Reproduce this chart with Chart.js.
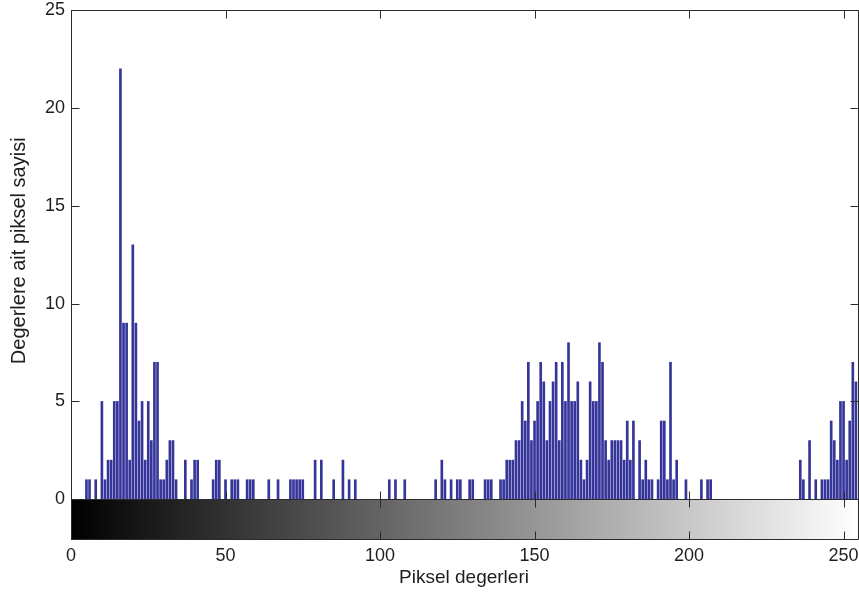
<!DOCTYPE html>
<html>
<head>
<meta charset="utf-8">
<script src="https://cdn.jsdelivr.net/npm/chart.js@4.4.1/dist/chart.umd.min.js"></script>
<style>
  html, body { margin: 0; padding: 0; background: #fff; overflow: hidden; }
  #wrap { width: 859px; height: 598px; position: relative; }
</style>
</head>
<body>
<div id="wrap"><canvas id="histChart" width="859" height="598"></canvas></div>
<script>
// pixel values (bins) that have a count; other bins are 0
const binValues = [
  5, 6, 8, 10, 11, 12, 13, 14, 15, 16, 17, 18, 19, 20, 21, 22, 23, 24, 25, 26,
  27, 28, 29, 30, 31, 32, 33, 34, 37, 39, 40, 41, 46, 47, 48, 50, 52, 53, 54, 57,
  58, 59, 64, 67, 71, 72, 73, 74, 75, 79, 81, 85, 88, 90, 92, 103, 105, 108, 118, 120,
  121, 123, 125, 126, 129, 130, 134, 135, 136, 139, 140, 141, 142, 143, 144, 145, 146, 147, 148, 149,
  150, 151, 152, 153, 154, 155, 156, 157, 158, 159, 160, 161, 162, 163, 164, 165, 166, 167, 168, 169,
  170, 171, 172, 173, 174, 175, 176, 177, 178, 179, 180, 181, 182, 184, 185, 186, 187, 188, 190, 191,
  192, 193, 194, 195, 196, 199, 204, 206, 207, 236, 237, 239, 241, 243, 244, 245, 246, 247, 248, 249,
  250, 251, 252, 253, 254
];
const binCounts = [
  1, 1, 1, 5, 1, 2, 2, 5, 5, 22, 9, 9, 2, 13, 9, 4, 5, 2, 5, 3,
  7, 7, 1, 1, 2, 3, 3, 1, 2, 1, 2, 2, 1, 2, 2, 1, 1, 1, 1, 1,
  1, 1, 1, 1, 1, 1, 1, 1, 1, 2, 2, 1, 2, 1, 1, 1, 1, 1, 1, 2,
  1, 1, 1, 1, 1, 1, 1, 1, 1, 1, 1, 2, 2, 2, 3, 3, 5, 4, 7, 3,
  4, 5, 7, 6, 3, 5, 6, 7, 3, 7, 5, 8, 5, 5, 6, 2, 1, 2, 6, 5,
  5, 8, 7, 3, 2, 3, 3, 3, 3, 2, 4, 2, 4, 3, 1, 2, 1, 1, 1, 4,
  4, 1, 7, 1, 2, 1, 1, 1, 1, 2, 1, 3, 1, 1, 1, 1, 4, 3, 2, 5,
  5, 2, 4, 7, 6
];
const xTickValues = [0, 50, 100, 150, 200, 250];
const yTickValues = [0, 5, 10, 15, 20, 25];
const xTitle = 'Piksel degerleri';
const yTitle = 'Degerlere ait piksel sayisi';

const FONT = '"Liberation Sans", Arial, sans-serif';
const TEXT_COLOR = '#1e1e1e';
const FRAME_COLOR = '#2b2b2b';
const TICK_LEN = 8;

// gray bar under the histogram + frame + inward ticks + axis titles
const matlabAxes = {
  id: 'matlabAxes',
  beforeDatasetsDraw(chart) {
    const { ctx, chartArea: a, scales: { x, y } } = chart;
    const y0 = y.getPixelForValue(0);
    const grad = ctx.createLinearGradient(x.getPixelForValue(0), 0, x.getPixelForValue(255), 0);
    grad.addColorStop(0, '#000000');
    grad.addColorStop(1, '#ffffff');
    ctx.save();
    ctx.fillStyle = grad;
    ctx.fillRect(a.left, y0, a.right - a.left, a.bottom - y0);
    ctx.restore();
  },
  afterDraw(chart) {
    const { ctx, chartArea: a, scales: { x, y } } = chart;
    const y0 = Math.round(y.getPixelForValue(0)) + 0.5;
    const L = Math.round(a.left) + 0.5;
    const R = Math.round(a.right) - 0.5;
    const T = Math.round(a.top) + 0.5;
    const B = Math.round(a.bottom) - 0.5;
    ctx.save();
    ctx.strokeStyle = FRAME_COLOR;
    ctx.lineWidth = 1;
    ctx.beginPath();
    ctx.rect(L, T, R - L, B - T);
    ctx.moveTo(L, y0);
    ctx.lineTo(R, y0);
    xTickValues.forEach(v => {
      const px = Math.round(x.getPixelForValue(v)) + 0.5;
      ctx.moveTo(px, T); ctx.lineTo(px, T + TICK_LEN);
      ctx.moveTo(px, y0); ctx.lineTo(px, y0 - TICK_LEN);
      ctx.moveTo(px, y0); ctx.lineTo(px, y0 + TICK_LEN);
      ctx.moveTo(px, B); ctx.lineTo(px, B - TICK_LEN);
    });
    yTickValues.forEach(v => {
      const py = Math.round(y.getPixelForValue(v)) + 0.5;
      ctx.moveTo(L, py); ctx.lineTo(L + TICK_LEN, py);
      ctx.moveTo(R, py); ctx.lineTo(R - TICK_LEN, py);
    });
    ctx.stroke();

    ctx.fillStyle = TEXT_COLOR;
    ctx.font = '19px ' + FONT;
    ctx.textAlign = 'center';
    ctx.textBaseline = 'middle';
    ctx.fillText(xTitle, (a.left + a.right) / 2 - 1, 578);
    ctx.font = '20px ' + FONT;
    ctx.translate(19, (a.top + y0) / 2 - 4);
    ctx.rotate(-Math.PI / 2);
    ctx.fillText(yTitle, 0, 0);
    ctx.restore();
  }
};

new Chart(document.getElementById('histChart'), {
  type: 'bar',
  data: {
    datasets: [{
      data: binValues.map((v, i) => ({ x: v, y: binCounts[i] })),
      backgroundColor: '#35359a',
      borderWidth: 0,
      barThickness: 2
    }]
  },
  options: {
    responsive: false,
    animation: false,
    layout: { padding: { left: 0, top: 10, right: -1, bottom: 0 } },
    plugins: {
      legend: { display: false },
      tooltip: { enabled: false }
    },
    scales: {
      x: {
        type: 'linear',
        min: 0,
        max: 255,
        offset: false,
        grid: { display: false, drawTicks: false },
        border: { display: false },
        afterBuildTicks: s => { s.ticks = xTickValues.map(v => ({ value: v })); },
        afterFit: s => { s.height = 58; s.paddingLeft = 0; s.paddingRight = 0; },
        ticks: {
          padding: 5,
          maxRotation: 0,
          color: TEXT_COLOR,
          font: { family: FONT, size: 18 }
        }
      },
      y: {
        type: 'linear',
        min: -2.08,
        max: 25,
        grid: { display: false, drawTicks: false },
        border: { display: false },
        afterBuildTicks: s => { s.ticks = yTickValues.map(v => ({ value: v })); },
        afterFit: s => { s.width = 71; s.paddingTop = 0; s.paddingBottom = 0; },
        ticks: {
          padding: 6,
          color: TEXT_COLOR,
          font: { family: FONT, size: 18 }
        }
      }
    }
  },
  plugins: [matlabAxes]
});
</script>
</body>
</html>
